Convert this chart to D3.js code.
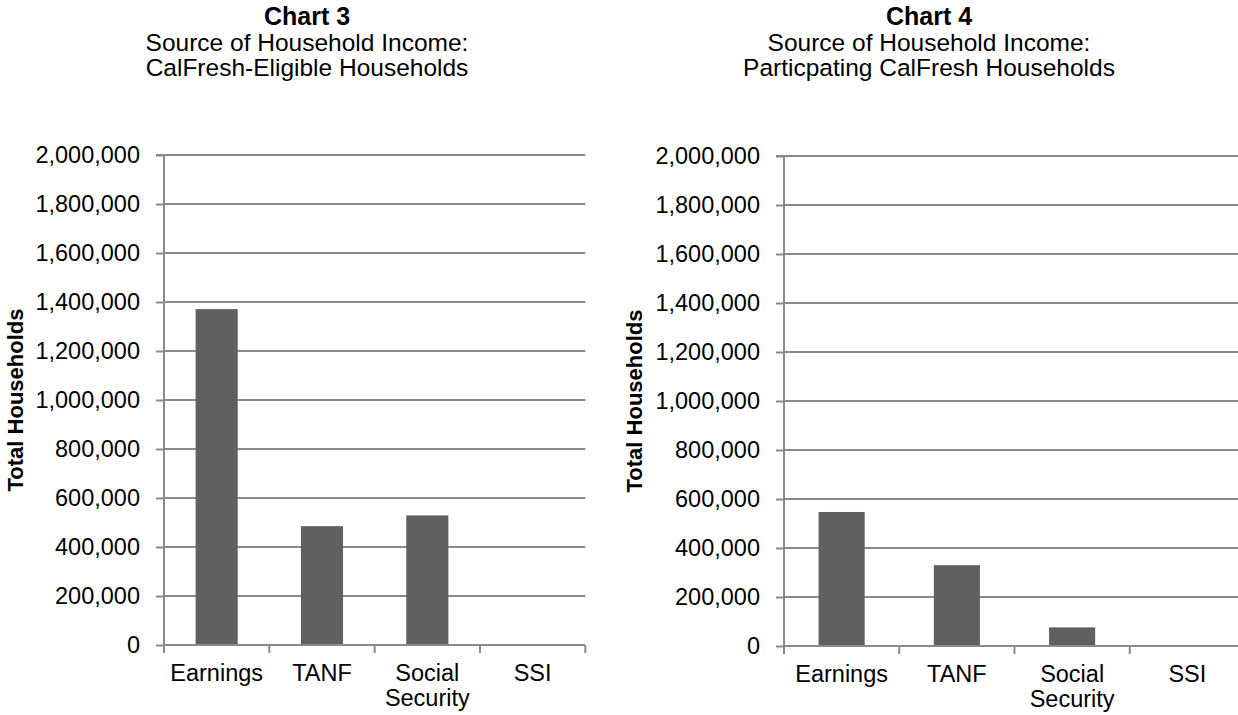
<!DOCTYPE html>
<html>
<head>
<meta charset="utf-8">
<script src="https://cdn.jsdelivr.net/npm/d3@7/dist/d3.min.js"></script>
<style>
  html, body { margin: 0; padding: 0; background: #ffffff; }
  svg { display: block; font-family: "Liberation Sans", Arial, sans-serif; }
</style>
</head>
<body>
<svg id="chart" width="1238" height="715"></svg>
<script>
const categories = ["Earnings", "TANF", "Social Security", "SSI"];
const eligibleValues = [1371000, 485000, 529000, 0];
const participatingValues = [547000, 330000, 76000, 0];
const yTicks = [0, 200000, 400000, 600000, 800000, 1000000, 1200000, 1400000, 1600000, 1800000, 2000000];
const chartTitles = [
  ["Chart 3", "Source of Household Income:", "CalFresh-Eligible Households"],
  ["Chart 4", "Source of Household Income:", "Particpating CalFresh Households"]
];
const yAxisTitle = "Total Households";

const svg = d3.select("#chart");
const fmt = d3.format(",");

const panels = [
  { values: eligibleValues, titles: chartTitles[0], x0: 164, x1: 585.3, yTop: 155, yBot: 645, titleX: 307, axisTitleX: 15 },
  { values: participatingValues, titles: chartTitles[1], x0: 784, x1: 1245, yTop: 156, yBot: 646, titleX: 929, axisTitleX: 634 }
];

panels.forEach(p => {
  const g = svg.append("g");
  const x = d3.scaleBand().domain(categories).range([p.x0, p.x1]).paddingInner(0.6).paddingOuter(0.3);
  const y = d3.scaleLinear().domain([0, 2000000]).range([p.yBot, p.yTop]);

  // titles
  const t = g.append("text").attr("text-anchor", "middle").attr("fill", "#000");
  p.titles.forEach((line, i) => {
    t.append("tspan").attr("x", p.titleX).attr("y", 25 + i * 25.5)
      .attr("font-size", i === 0 ? "25px" : "24.5px")
      .attr("font-weight", i === 0 ? "bold" : "normal")
      .text(line);
  });

  // gridlines
  g.append("g").selectAll("line").data(yTicks.filter(d => d > 0)).join("line")
    .attr("x1", p.x0).attr("x2", p.x1)
    .attr("y1", d => y(d)).attr("y2", d => y(d))
    .attr("stroke", "#8a8a8a").attr("stroke-width", 2);

  // bars
  g.append("g").selectAll("rect").data(categories).join("rect")
    .attr("x", d => x(d)).attr("width", x.bandwidth())
    .attr("y", (d, i) => y(p.values[i]))
    .attr("height", (d, i) => y(0) - y(p.values[i]))
    .attr("fill", "#606060");

  // y axis
  const yAxis = d3.axisLeft(y).tickValues(yTicks).tickFormat(fmt).tickSize(8).tickPadding(16);
  const ya = g.append("g").attr("transform", `translate(${p.x0},0)`).call(yAxis);
  ya.select(".domain").attr("stroke", "#8a8a8a").attr("stroke-width", 2).attr("d", `M-8,${p.yTop}H0V${p.yBot}`);
  ya.selectAll(".tick line").attr("stroke", "#8a8a8a").attr("stroke-width", 2);
  ya.selectAll(".tick text").attr("font-size", "23.5px").attr("fill", "#000").attr("font-family", "Liberation Sans, Arial, sans-serif");

  // x axis
  const xAxis = d3.axisBottom(x).tickSize(0).tickPadding(0);
  const xa = g.append("g").attr("transform", `translate(0,${p.yBot})`).call(xAxis);
  xa.select(".domain").attr("stroke", "#8a8a8a").attr("stroke-width", 2).attr("d", `M${p.x0},0H${p.x1}`);
  // category boundary ticks
  const bounds = categories.map(c => x(c) - x.step() * x.paddingInner() / 2);
  g.append("g").selectAll("line").data(bounds.concat([p.x1])).join("line")
    .attr("x1", d => d).attr("x2", d => d)
    .attr("y1", p.yBot).attr("y2", p.yBot + 8)
    .attr("stroke", "#8a8a8a").attr("stroke-width", 2);
  xa.selectAll(".tick text").each(function(d) {
    const el = d3.select(this);
    el.text(null).attr("font-size", "23.5px").attr("fill", "#000").attr("font-family", "Liberation Sans, Arial, sans-serif").attr("y", 0).attr("dy", 0);
    const words = d.split(" ");
    words.forEach((w, i) => {
      el.append("tspan").attr("x", 0).attr("y", 36 + i * 24.5).text(w);
    });
  });

  // y axis title
  g.append("text")
    .attr("transform", `translate(${p.axisTitleX + 8},${(p.yTop + p.yBot) / 2}) rotate(-90)`)
    .attr("text-anchor", "middle")
    .attr("font-size", "22px").attr("font-weight", "bold").attr("fill", "#000")
    .text(yAxisTitle);
});
</script>
</body>
</html>
